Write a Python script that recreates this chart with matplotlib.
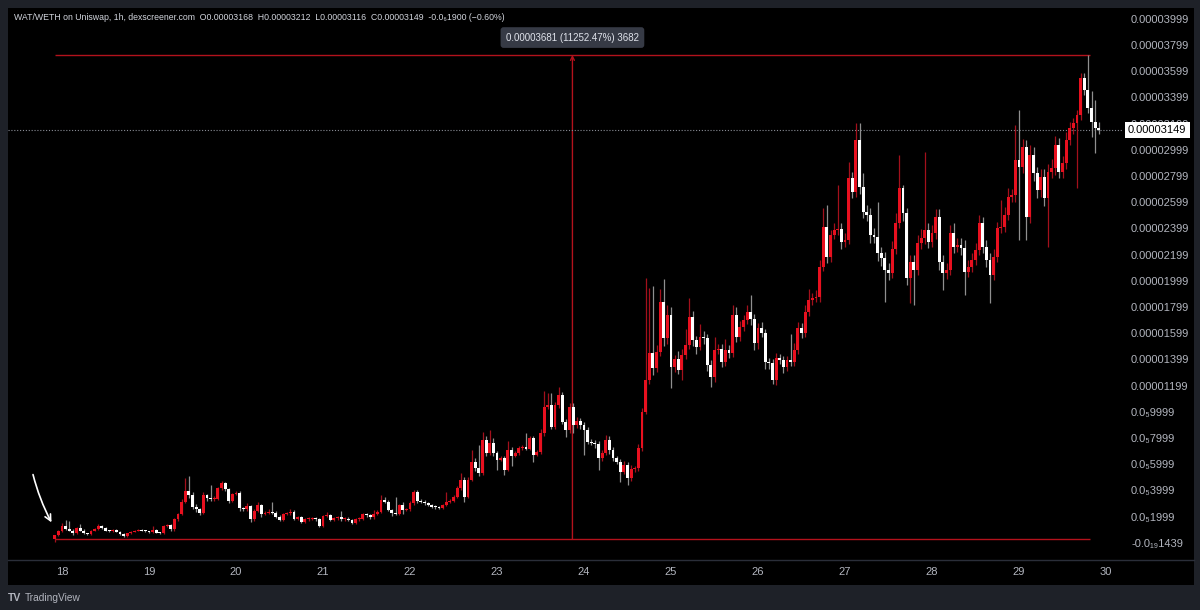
import numpy as np
import matplotlib
matplotlib.use("Agg")
import matplotlib.pyplot as plt
from matplotlib.patches import Rectangle
from matplotlib.lines import Line2D
from matplotlib.transforms import blended_transform_factory

plt.rcParams['font.family'] = ['Liberation Sans', 'DejaVu Sans']

# ---------------- data (prices in units of 1e-6 WETH) ----------------
first_hour = -2          # first candle: 17th 22:00 (hours counted from 18th 00:00)
first_open = 0.30

close = [
    0.55, 0.90,
    # 18th
    1.25, 1.02, 0.92, 0.72, 1.10, 0.92, 0.72, 0.67, 0.92, 1.02, 1.27, 1.10,
    0.92, 0.90, 0.97, 0.84, 0.66, 0.50, 0.72, 0.84, 0.92, 0.97, 0.92, 0.87,
    # 19th
    0.82, 0.97, 0.77, 0.72, 1.27, 1.35, 1.02, 1.78, 2.19, 3.13, 3.97, 3.64,
    2.75, 2.55, 2.29, 3.64, 3.39, 3.31, 3.36, 4.15, 4.53, 4.07, 3.21, 3.72,
    # 20th
    3.82, 2.62, 2.55, 2.80, 1.78, 2.45, 2.88, 2.19, 2.29, 2.37, 2.29, 1.99,
    1.73, 2.19, 2.24, 2.37, 1.84, 1.94, 1.58, 1.78, 1.84, 1.89, 1.78, 1.28,
    # 21st
    2.04, 2.11, 1.73, 1.86, 1.94, 1.78, 1.84, 1.73, 1.53, 1.78, 1.84, 2.19,
    2.09, 1.94, 2.19, 2.37, 3.26, 3.13, 2.49, 2.24, 2.19, 2.87, 2.49, 2.54,
    # 22nd
    3.00, 3.84, 3.21, 3.13, 3.00, 2.87, 2.75, 2.70, 2.67, 2.87, 3.13, 3.21,
    3.51, 4.15, 4.78, 3.51, 4.78, 6.18, 5.67, 5.29, 7.84, 6.82, 7.58, 6.82,
    # 23rd
    6.31, 6.44, 5.55, 7.07, 6.62, 6.82, 7.20, 7.28, 7.15, 7.96, 6.69, 6.90,
    8.35, 10.38, 10.51, 8.85, 10.51, 11.27, 9.24, 8.60, 10.33, 8.98, 9.31, 8.98,
    # 24th
    8.60, 7.71, 7.63, 7.53, 6.44, 6.87, 7.84, 7.07, 6.44, 6.18, 5.42, 5.93,
    4.91, 5.60, 5.67, 7.20, 10.00, 12.42, 14.46, 13.31, 14.58, 18.40, 15.60, 17.38,
    # 25th
    13.44, 14.00, 13.20, 14.30, 15.09, 17.26, 15.48, 14.97, 15.73, 15.60, 13.57, 12.68,
    14.71, 14.76, 13.82, 14.71, 14.46, 17.38, 15.73, 16.49, 17.00, 17.64, 17.05, 15.22,
    # 26th
    16.37, 15.99, 13.82, 13.69, 12.42, 14.08, 13.95, 13.44, 13.95, 13.82, 14.71, 16.37,
    15.99, 17.64, 18.53, 18.66, 18.78, 21.07, 24.13, 21.84, 23.49, 23.87, 23.92, 22.98,
    # 27th
    23.11, 27.82, 26.80, 30.74, 27.18, 25.27, 25.02, 23.49, 23.36, 22.09, 21.70, 20.82,
    20.57, 22.40, 24.40, 27.10, 25.14, 20.18, 21.45, 20.81, 22.85, 23.23, 23.87, 22.98,
    # 28th
    23.61, 24.88, 21.45, 20.56, 20.81, 23.61, 22.59, 22.72, 22.47, 20.69, 21.07, 21.58,
    22.34, 24.43, 22.59, 21.58, 20.43, 21.83, 24.00, 24.12, 25.01, 26.41, 26.50, 29.21,
    # 29th
    28.70, 30.23, 24.88, 29.59, 28.19, 26.92, 27.94, 26.28, 28.32, 28.57, 30.36, 28.32,
    28.95, 30.74, 31.63, 32.01, 32.64, 35.44, 34.55, 33.20, 32.14, 31.68, 31.49,
]

# upper wick length above the body
up_wick = [
    0.05, 0.05,
    0.25, 0.45, 0.65, 0.10, 0.10, 0.35, 0.10, 0.05, 0.05, 0.10, 0.13, 0.10,
    0.10, 0.05, 0.05, 0.10, 0.05, 0.10, 0.05, 0.05, 0.05, 0.05, 0.05, 0.05,
    0.05, 0.30, 0.05, 0.05, 0.10, 0.10, 0.10, 0.10, 0.10, 0.20, 0.95, 1.10,
    0.20, 0.20, 0.10, 0.20, 0.10, 1.00, 0.20, 0.10, 0.20, 0.10, 0.10, 0.10,
    0.10, 0.10, 0.10, 0.20, 0.10, 0.10, 0.20, 0.10, 0.10, 0.20, 0.70, 0.10,
    0.10, 0.10, 0.10, 0.20, 0.10, 0.10, 0.10, 0.10, 0.10, 0.10, 0.10, 0.10,
    0.10, 0.20, 0.10, 0.10, 0.10, 0.50, 0.10, 0.10, 0.10, 0.10, 0.10, 0.10,
    0.10, 0.10, 0.30, 0.10, 0.40, 0.20, 0.10, 0.10, 1.27, 0.10, 0.20, 0.10,
    0.20, 0.20, 0.20, 0.10, 0.10, 0.10, 0.10, 0.10, 0.10, 0.10, 0.75, 0.10,
    0.10, 0.20, 0.55, 0.20, 0.20, 0.90, 0.30, 1.78, 0.60, 0.30, 1.00, 0.38,
    0.20, 0.20, 0.20, 0.70, 0.20, 0.20, 0.20, 0.20, 1.12, 0.20, 0.20, 0.20,
    0.30, 1.20, 0.90, 0.94, 0.20, 0.60, 0.20, 0.20, 0.30, 0.30, 0.30, 0.20,
    0.20, 0.20, 0.20, 0.20, 0.20, 0.20, 0.40, 0.30, 0.20, 0.20, 0.20, 0.30,
    0.20, 0.30, 0.20, 0.30, 0.30, 7.80, 4.96, 5.10, 0.50, 1.00, 1.70, 0.80,
    0.60, 0.30, 0.60, 0.50, 1.20, 1.40, 0.40, 0.30, 1.00, 0.40, 0.30, 0.40,
    1.00, 0.40, 0.40, 0.80, 0.40, 0.80, 0.60, 0.40, 0.40, 0.50, 1.30, 0.40,
    0.40, 0.50, 0.30, 0.30, 0.30, 0.40, 0.30, 0.30, 0.30, 2.00, 0.50, 0.50,
    0.40, 0.50, 0.80, 0.40, 0.50, 0.50, 1.40, 1.65, 0.40, 0.50, 3.40, 0.50,
    0.50, 1.20, 0.50, 1.30, 1.26, 1.00, 0.50, 0.50, 0.50, 2.68, 0.50, 0.50,
    0.50, 0.60, 0.80, 2.50, 0.20, 0.40, 0.50, 0.50, 0.60, 0.70, 5.98, 0.50,
    0.60, 0.60, 0.60, 0.50, 0.50, 0.60, 0.80, 0.50, 0.50, 0.60, 0.50, 0.50,
    0.50, 0.60, 0.40, 0.50, 0.50, 0.60, 0.50, 2.00, 0.60, 0.70, 0.50, 2.67,
    3.82, 0.60, 0.50, 0.80, 0.60, 0.50, 0.60, 0.60, 0.60, 0.70, 0.70, 0.50,
    0.60, 0.60, 0.50, 0.40, 0.40, 0.40, 0.40, 2.68, 1.30, 1.65, 0.44,
]

# lower wick length below the body
dn_wick = [
    0.25, 0.05,
    0.10, 0.05, 0.05, 0.10, 0.05, 0.05, 0.05, 0.05, 0.05, 0.05, 0.05, 0.05,
    0.05, 0.05, 0.05, 0.05, 0.05, 0.10, 0.05, 0.05, 0.05, 0.05, 0.05, 0.05,
    0.05, 0.05, 0.05, 0.05, 0.05, 0.05, 0.10, 0.10, 0.10, 0.10, 0.10, 0.20,
    0.20, 0.20, 0.20, 0.10, 0.20, 0.10, 0.10, 0.10, 0.10, 0.10, 0.20, 0.10,
    0.10, 0.20, 0.10, 0.10, 0.20, 0.10, 0.10, 0.20, 0.10, 0.10, 0.10, 0.10,
    0.10, 0.10, 0.10, 0.10, 0.10, 0.10, 0.10, 0.10, 0.10, 0.10, 0.10, 0.10,
    0.10, 0.10, 0.10, 0.10, 0.10, 0.10, 0.10, 0.10, 0.10, 0.10, 0.10, 0.10,
    0.10, 0.10, 0.10, 0.10, 0.10, 0.10, 0.10, 0.20, 0.10, 0.10, 0.30, 0.10,
    0.10, 0.10, 0.20, 0.10, 0.10, 0.10, 0.10, 0.10, 0.10, 0.10, 0.10, 0.10,
    0.10, 0.10, 0.10, 0.38, 0.10, 0.10, 0.20, 0.20, 0.10, 0.20, 0.10, 0.20,
    0.76, 0.10, 0.38, 0.10, 0.80, 0.10, 0.10, 0.10, 0.10, 0.10, 0.50, 0.10,
    0.10, 0.20, 0.20, 0.20, 0.20, 0.20, 0.20, 0.50, 0.20, 0.60, 0.20, 0.30,
    1.91, 0.20, 0.20, 0.30, 0.90, 0.20, 0.20, 0.30, 0.20, 0.20, 0.75, 0.20,
    0.50, 0.20, 0.20, 0.20, 0.20, 0.20, 0.30, 0.50, 0.30, 0.30, 0.60, 0.40,
    1.65, 0.40, 0.30, 0.78, 0.30, 0.30, 0.50, 0.60, 0.30, 0.40, 0.50, 0.80,
    0.40, 0.30, 0.40, 0.30, 0.40, 0.30, 0.40, 0.30, 0.30, 0.30, 0.40, 0.50,
    0.40, 0.30, 0.60, 0.40, 0.30, 0.40, 0.30, 0.50, 0.30, 0.30, 0.30, 0.30,
    0.40, 0.30, 0.30, 0.40, 0.30, 0.40, 0.30, 0.50, 0.40, 0.30, 0.40, 0.60,
    0.40, 0.30, 0.50, 0.40, 0.60, 0.50, 0.50, 0.60, 0.50, 0.60, 0.60, 2.42,
    0.50, 0.40, 0.40, 0.40, 0.60, 0.50, 1.91, 2.67, 0.40, 0.40, 0.40, 0.50,
    0.40, 0.40, 0.60, 1.27, 0.40, 0.40, 0.50, 0.40, 0.50, 1.79, 0.40, 0.40,
    0.40, 0.40, 0.50, 0.50, 2.16, 0.40, 0.40, 0.40, 0.40, 0.40, 0.40, 0.50,
    5.60, 0.50, 1.80, 0.50, 0.60, 0.60, 0.50, 0.60, 3.68, 0.50, 0.50, 0.50,
    0.50, 0.40, 0.40, 0.40, 4.96, 0.40, 0.40, 0.40, 1.14, 1.96, 0.33,
]

day_labels = ['18', '19', '20', '21', '22', '23', '24', '25', '26', '27', '28', '29', '30']

ytick_values = [39.99, 37.99, 35.99, 33.99, 31.99, 29.99, 27.99, 25.99, 23.99, 21.99,
                19.99, 17.99, 15.99, 13.99, 11.99, 9.999, 7.999, 5.999, 3.999, 1.999, 0.0]
ytick_labels = ['0.00003999', '0.00003799', '0.00003599', '0.00003399', '0.00003199',
                '0.00002999', '0.00002799', '0.00002599', '0.00002399', '0.00002199',
                '0.00001999', '0.00001799', '0.00001599', '0.00001399', '0.00001199',
                '0.0₅9999', '0.0₅7999', '0.0₅5999', '0.0₅3999', '0.0₅1999', '-0.0₁₉1439']

header = ("WAT/WETH on Uniswap, 1h, dexscreener.com  O0.00003168  H0.00003212  "
          "L0.00003116  C0.00003149  -0.0₆1900 (−0.60%)")
measure_text = "0.00003681 (11252.47%) 3682"

# ---------------- derived OHLC ----------------
close = np.array(close)
up_wick = np.array(up_wick)
dn_wick = np.array(dn_wick)
hours = np.arange(len(close)) + first_hour
opens = np.concatenate([[first_open], close[:-1]])
body_top = np.maximum(opens, close)
body_bot = np.minimum(opens, close)
highs = body_top + up_wick
lows = body_bot - dn_wick
is_up = close >= opens

# ---------------- figure ----------------
W, H = 1200, 610
BG = '#1e2128'
TXT = '#b2b5be'
fig = plt.figure(figsize=(W / 100, H / 100), dpi=100, facecolor=BG)

def fx(px):
    return px / W

def fy(py):
    return 1 - py / H

# black chart panel
fig.add_artist(Rectangle((fx(8), fy(585)), fx(1194) - fx(8), fy(8) - fy(585),
                         transform=fig.transFigure, facecolor='black',
                         edgecolor='none', zorder=-5))

ax = fig.add_axes([fx(8), fy(560), fx(1122) - fx(8), fy(8) - fy(560)], facecolor='black')
for s in ax.spines.values():
    s.set_visible(False)
ax.set_xlim(-14.9, 292.4)
ax.set_ylim(-1.32, 40.81)

# candles
wick_cols = np.where(is_up, '#a3101c', '#8f8f8f')
body_cols = np.where(is_up, '#e8101f', '#ffffff')
ax.vlines(hours, lows, highs, colors=wick_cols, lw=0.9, zorder=2)
heights = np.maximum(body_top - body_bot, 0.07)
ax.bar(hours, heights, bottom=body_bot, width=0.8, color=body_cols,
       linewidth=0, zorder=3)

# measurement tool
peak_i = int(np.argmax(highs))
h0, h1 = hours[0], hours[peak_i] + 0.6
top_v, bot_v = highs[peak_i], first_open
mid = (h0 + h1) / 2
mcol = '#b3121c'
ax.hlines([top_v, bot_v], h0, h1, colors=mcol, lw=1.0, zorder=1)
ax.annotate('', xy=(mid, top_v), xytext=(mid, bot_v),
            arrowprops=dict(arrowstyle='->', color=mcol, lw=1.0,
                            shrinkA=0, shrinkB=0, mutation_scale=7), zorder=1)
ax.annotate(measure_text, xy=(mid, top_v), xytext=(0, 12.5), textcoords='offset points',
            ha='center', va='center', fontsize=7, color='#e0e3eb',
            bbox=dict(boxstyle='round,pad=0.55,rounding_size=0.3', fc='#363a45', ec='none'),
            zorder=6)

# current price dotted line + label
ax.axhline(close[-1], color='#8a8d96', lw=0.8, ls=(0, (1, 1.6)), zorder=1)
tr = blended_transform_factory(ax.transAxes, ax.transData)
ax.text(1.0 + 6 / 1114, close[-1], f"{close[-1] * 1e-6:.8f}", transform=tr,
        ha='left', va='center', fontsize=8, color='black', clip_on=False, zorder=10,
        bbox=dict(boxstyle='square,pad=0.3', fc='white', ec='none'))

# hand-drawn arrow
ax.annotate('', xy=(-2.9, 1.55), xytext=(-8.0, 5.2),
            arrowprops=dict(arrowstyle='->', color='white', lw=1.2,
                            connectionstyle='arc3,rad=0.06', mutation_scale=11,
                            shrinkA=0, shrinkB=0))

# axes ticks
ax.yaxis.tick_right()
ax.set_yticks(ytick_values, ytick_labels)
ax.tick_params(axis='y', length=0, pad=6.5, labelsize=8, labelcolor=TXT)
ax.set_xticks(np.arange(len(day_labels)) * 24, day_labels)
ax.tick_params(axis='x', length=0, pad=5.2, labelsize=8, labelcolor=TXT)

# separator above time axis
fig.add_artist(Line2D([fx(8), fx(1194)], [fy(560), fy(560)], color='#2a2e39', lw=1.0))

# header and footer
fig.text(fx(14), fy(17), header, fontsize=6.3, color='#d1d4dc', ha='left', va='center')
fig.text(fx(8), fy(598), 'TV', fontsize=7.5, fontweight='bold', color=TXT, ha='left', va='center')
fig.text(fx(25), fy(598), 'TradingView', fontsize=7.3, color=TXT, ha='left', va='center')

fig.savefig('out.png', dpi=100, facecolor=BG)
